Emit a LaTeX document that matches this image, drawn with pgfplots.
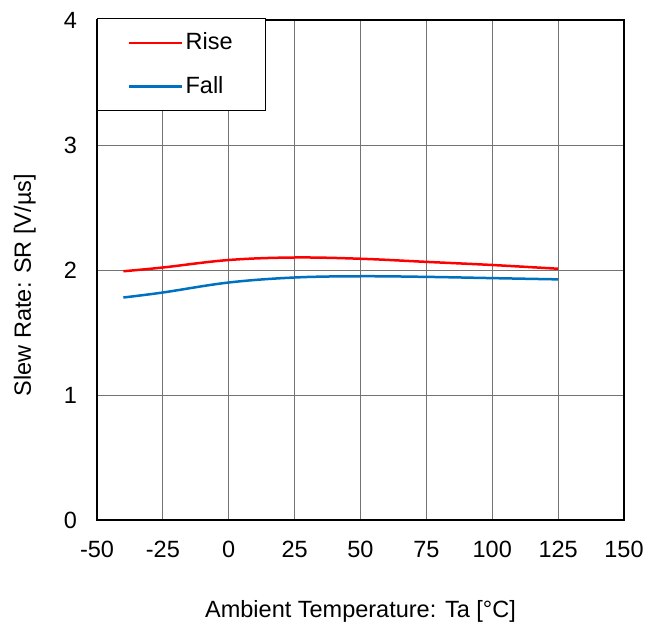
\documentclass[border=0pt]{standalone}
\usepackage{fontspec}
\setmainfont{Liberation Sans}
\usepackage{pgfplots}
\pgfplotsset{compat=1.18}
\definecolor{riseRed}{HTML}{FF0000}
\definecolor{fallBlue}{HTML}{0070C0}
\begin{document}
\fontsize{23.5bp}{28bp}\selectfont
\begin{tikzpicture}
\path[use as bounding box] (-97bp,-109bp) rectangle (562bp,520bp);
\begin{axis}[
  scale only axis,
  width=527bp, height=500bp,
  xmin=-50, xmax=150, ymin=0, ymax=4,
  xtick={-50,-25,0,25,50,75,100,125,150},
  ytick={0,1,2,3,4},
  xticklabels={-50,-25,0,25,50,75,100,125,150},
  yticklabels={0,1,2,3,4},
  major tick length=0pt,
  grid=major,
  major grid style={black!55, line width=0.9bp},
  axis line style={black, line width=1.5bp},
  xticklabel style={anchor=north, yshift=-13bp},
  yticklabel style={anchor=east, xshift=-12bp},
  xlabel={Ambient Temperature: Ta [°C]},
  ylabel={Slew Rate: SR [V/µs]},
  xlabel style={at={(axis description cs:0.5,-0.182)}, anchor=center},
  ylabel style={at={(axis description cs:-0.137,0.47)}, anchor=center, rotate=0},
  legend style={at={(axis description cs:0,1.004)}, anchor=north west,
    draw=black, line width=1.2bp, fill=white,
    inner xsep=30bp, inner ysep=11.5bp,
    nodes={inner sep=2.5bp}, row sep=18bp, column sep=0bp},
  legend cell align=left,
  legend image code/.code={\draw[#1, line width=2.5bp] (0bp,0bp) -- (53bp,0bp);},
]
\addplot[riseRed, line width=2.5bp, smooth, tension=0.6] coordinates {
  (-40,1.99) (-25,2.02) (0,2.08) (25,2.10) (50,2.09) (75,2.065) (100,2.04) (125,2.01)
};
\addlegendentry{Rise}
\addplot[fallBlue, line width=2.5bp, smooth, tension=0.6] coordinates {
  (-40,1.78) (-25,1.82) (0,1.90) (25,1.94) (50,1.95) (75,1.945) (100,1.935) (125,1.925)
};
\addlegendentry{Fall}
\end{axis}
\end{tikzpicture}
\end{document}
